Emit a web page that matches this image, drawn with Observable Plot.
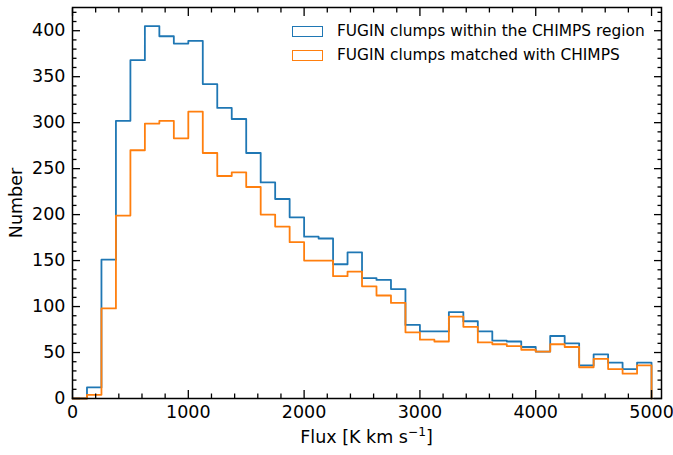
<!DOCTYPE html>
<html><head><meta charset="utf-8">
<script src="https://cdn.jsdelivr.net/npm/d3@7"></script>
<script src="https://cdn.jsdelivr.net/npm/@observablehq/plot@0.6"></script>
<style>
body{margin:0;background:#fff;font-family:"DejaVu Sans",sans-serif;}
#wrap{position:relative;width:673px;height:455px;}
.legend{position:absolute;left:292px;top:19px;font-size:15.4px;color:#000;font-family:"DejaVu Sans",sans-serif;}
.row{display:flex;align-items:center;height:24px;white-space:nowrap;}
.patch{box-sizing:border-box;width:31px;height:11px;border:1.7px solid;margin-right:14px;}
.xlabel{position:absolute;left:72px;width:589px;top:425px;text-align:center;font-size:17.5px;color:#000;line-height:24px;font-family:"DejaVu Sans",sans-serif;white-space:nowrap;}
.xlabel sup{font-size:12.2px;vertical-align:0;position:relative;top:-7px;}
</style></head><body><div id="wrap"></div>
<script>
// Bin edges of the histogram (K km s^-1)
const binEdges = d3.range(0, 5001, 125);
// FUGIN clumps within the CHIMPS region (counts per bin)
const withinChimps = [0, 12, 151, 302, 368, 405, 394, 386, 389, 342, 316, 304, 267, 235, 217, 197, 176, 174, 146, 159,
  131, 129, 119, 80, 73, 73, 94, 84, 73, 63, 62, 56, 51, 68, 60, 36, 48, 39, 32, 39];
// FUGIN clumps matched with CHIMPS (counts per bin)
const matchedChimps = [0, 4, 98, 199, 270, 299, 302, 283, 312, 267, 242, 246, 230, 200, 187, 170, 150, 150, 133, 138,
  122, 112, 104, 72, 64, 62, 89, 78, 61, 59, 57, 53, 51, 59, 56, 34, 43, 32, 27, 36];
const seriesNames = ["FUGIN clumps within the CHIMPS region", "FUGIN clumps matched with CHIMPS"];
const seriesColors = ["#1f77b4", "#ff7f0e"];
const xMajor = [0, 1000, 2000, 3000, 4000, 5000];
const xMinor = d3.range(0, 5001, 200).filter(v => v % 1000 !== 0);
const yMajor = [0, 50, 100, 150, 200, 250, 300, 350, 400];
const yMinor = d3.range(0, 421, 10).filter(v => v % 50 !== 0);
const yLabel = "Number";

function stepPoints(counts) {
  const n = counts.length;
  const pts = [{x: binEdges[0], y: 0}];
  counts.forEach((c, i) => pts.push({x: binEdges[i], y: c}));
  pts.push({x: binEdges[n], y: counts[n - 1]});
  pts.push({x: binEdges[n], y: 0});
  return pts;
}

const fs = 17.5;
const tickStyle = {strokeWidth: 1.3, stroke: "black"};
const chart = Plot.plot({
  width: 673, height: 455,
  marginLeft: 72, marginRight: 12, marginTop: 7, marginBottom: 57,
  style: {fontFamily: "DejaVu Sans, sans-serif", fontSize: fs + "px", color: "black", background: "white"},
  x: {domain: [0, 5086]},
  y: {domain: [0, 425.25]},
  marks: [
    Plot.line(stepPoints(withinChimps), {x: "x", y: "y", curve: "step-after", stroke: seriesColors[0], strokeWidth: 1.8}),
    Plot.line(stepPoints(matchedChimps), {x: "x", y: "y", curve: "step-after", stroke: seriesColors[1], strokeWidth: 1.8}),
    Plot.frame({stroke: "black", strokeWidth: 1.5}),
    Plot.axisX(xMajor, {anchor: "bottom", tickSize: -8, tickFormat: () => "", label: null, ...tickStyle}),
    Plot.axisX(xMajor, {anchor: "top", tickSize: -8, tickFormat: () => "", label: null, ...tickStyle}),
    Plot.axisX(xMinor, {anchor: "bottom", tickSize: -4.5, tickFormat: () => "", label: null, ...tickStyle}),
    Plot.axisX(xMinor, {anchor: "top", tickSize: -4.5, tickFormat: () => "", label: null, ...tickStyle}),
    Plot.axisY(yMajor, {anchor: "left", tickSize: -8, tickFormat: () => "", label: null, ...tickStyle}),
    Plot.axisY(yMajor, {anchor: "right", tickSize: -8, tickFormat: () => "", label: null, ...tickStyle}),
    Plot.axisY(yMinor, {anchor: "left", tickSize: -4.5, tickFormat: () => "", label: null, ...tickStyle}),
    Plot.axisY(yMinor, {anchor: "right", tickSize: -4.5, tickFormat: () => "", label: null, ...tickStyle}),
    Plot.axisX(xMajor, {anchor: "bottom", tickSize: 0, tickPadding: 7, fontSize: fs, label: null, tickFormat: d3.format("d")}),
    Plot.axisY(yMajor, {anchor: "left", tickSize: 0, tickPadding: 7, fontSize: fs, label: null, tickFormat: d3.format("d")}),
    Plot.text([yLabel], {text: d => d, frameAnchor: "left", dx: -56, rotate: -90, fontSize: fs, lineAnchor: "middle", textAnchor: "middle", fill: "black"})
  ]
});
const wrap = document.getElementById("wrap");
wrap.appendChild(chart);
const xl = document.createElement("div");
xl.className = "xlabel";
xl.innerHTML = "Flux [K km s<sup>\u22121</sup>]";
wrap.appendChild(xl);
const legend = document.createElement("div");
legend.className = "legend";
seriesNames.forEach((name, i) => {
  const row = document.createElement("div");
  row.className = "row";
  const patch = document.createElement("span");
  patch.className = "patch";
  patch.style.borderColor = seriesColors[i];
  const label = document.createElement("span");
  label.textContent = name;
  row.appendChild(patch);
  row.appendChild(label);
  legend.appendChild(row);
});
wrap.appendChild(legend);
</script>
</body></html>
